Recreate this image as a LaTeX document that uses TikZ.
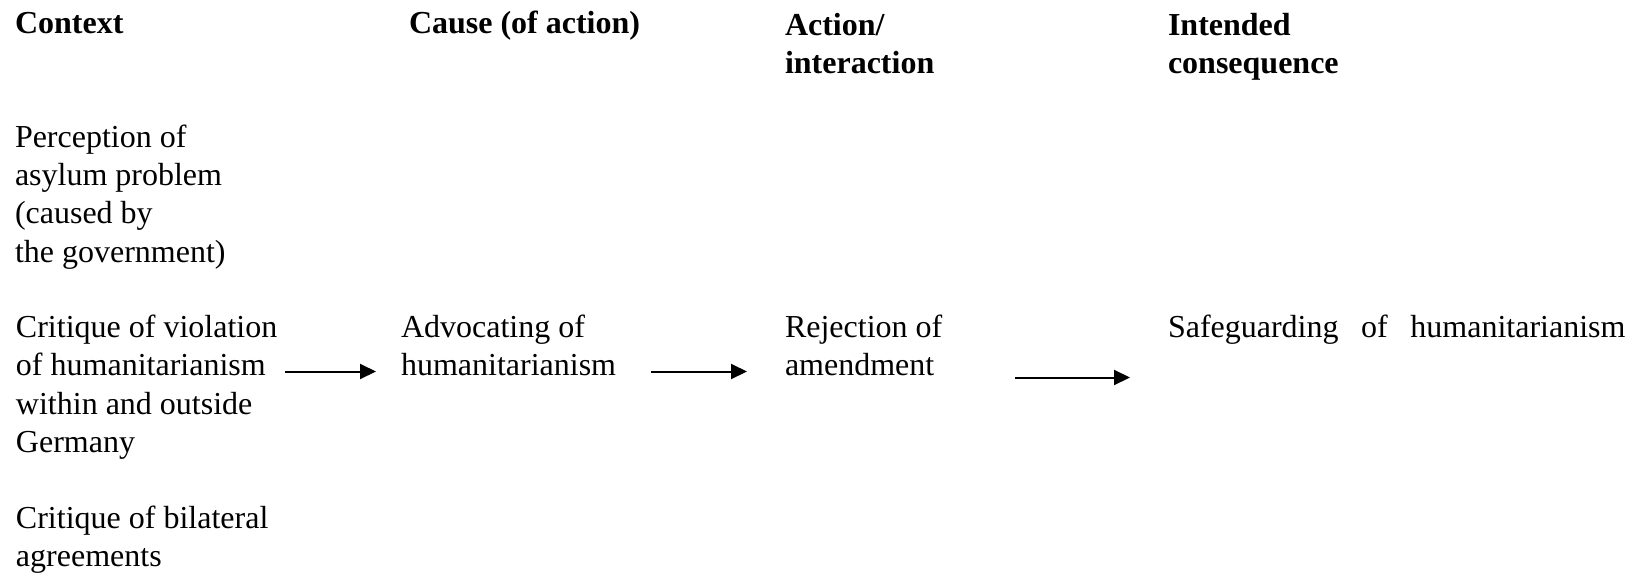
\documentclass[tikz,border=0pt]{standalone}
\usepackage{fontspec}
\setmainfont{Liberation Serif}
\usetikzlibrary{arrows.meta}
\newcommand\bodyfont{\fontsize{32}{38.3}\selectfont}
\newcommand\headfont{\fontsize{32}{38}\selectfont\bfseries}

\begin{document}
\begin{tikzpicture}[x=1pt,y=-1pt,
  % nodes are placed by the baseline of their last line
  txt/.style={anchor=base west, inner sep=0pt, outer sep=0pt, align=left, font=\bodyfont},
  head/.style={txt, font=\headfont},
  flow/.style={line width=2pt, -{Triangle[length=16pt,width=15pt]}}]
\useasboundingbox (0,0) rectangle (1636,576);

% column headings
\node[head] (hctx)   at (15,33.3)   {Context};
\node[head] (hcause) at (409,33.3)  {Cause (of action)};
\node[head] (hact)   at (785,73)    {Action/\\interaction};
\node[head] (hcons)  at (1168,73)   {Intended\\consequence};

% context items
\node[txt] (perc)  at (15,262)    {Perception of\\asylum problem\\(caused by\\the government)};
\node[txt] (crit)  at (16,452.5)  {Critique of violation\\of humanitarianism\\within and outside\\Germany};
\node[txt] (bilat) at (16,566.5)  {Critique of bilateral\\agreements};

% chain of action
\node[txt] (adv)  at (401,375.5)  {Advocating of\\humanitarianism};
\node[txt] (rej)  at (785,375.5)  {Rejection of\\amendment};
\node[txt] (safe) at (1168,337.2) {\makebox[457.5pt][s]{Safeguarding of humanitarianism}};

% arrow lanes
\coordinate (lane1) at (0,371.5);
\coordinate (lane2) at (0,377.5);

\draw[flow, shorten <=8pt,  shorten >=25pt] (crit.east |- lane1) -- (adv.west |- lane1);
\draw[flow, shorten <=35pt, shorten >=38pt] (adv.east |- lane1)  -- (rej.west |- lane1);
\draw[flow, shorten <=73pt, shorten >=38pt] (rej.east |- lane2)  -- (safe.west |- lane2);
\end{tikzpicture}
\end{document}
